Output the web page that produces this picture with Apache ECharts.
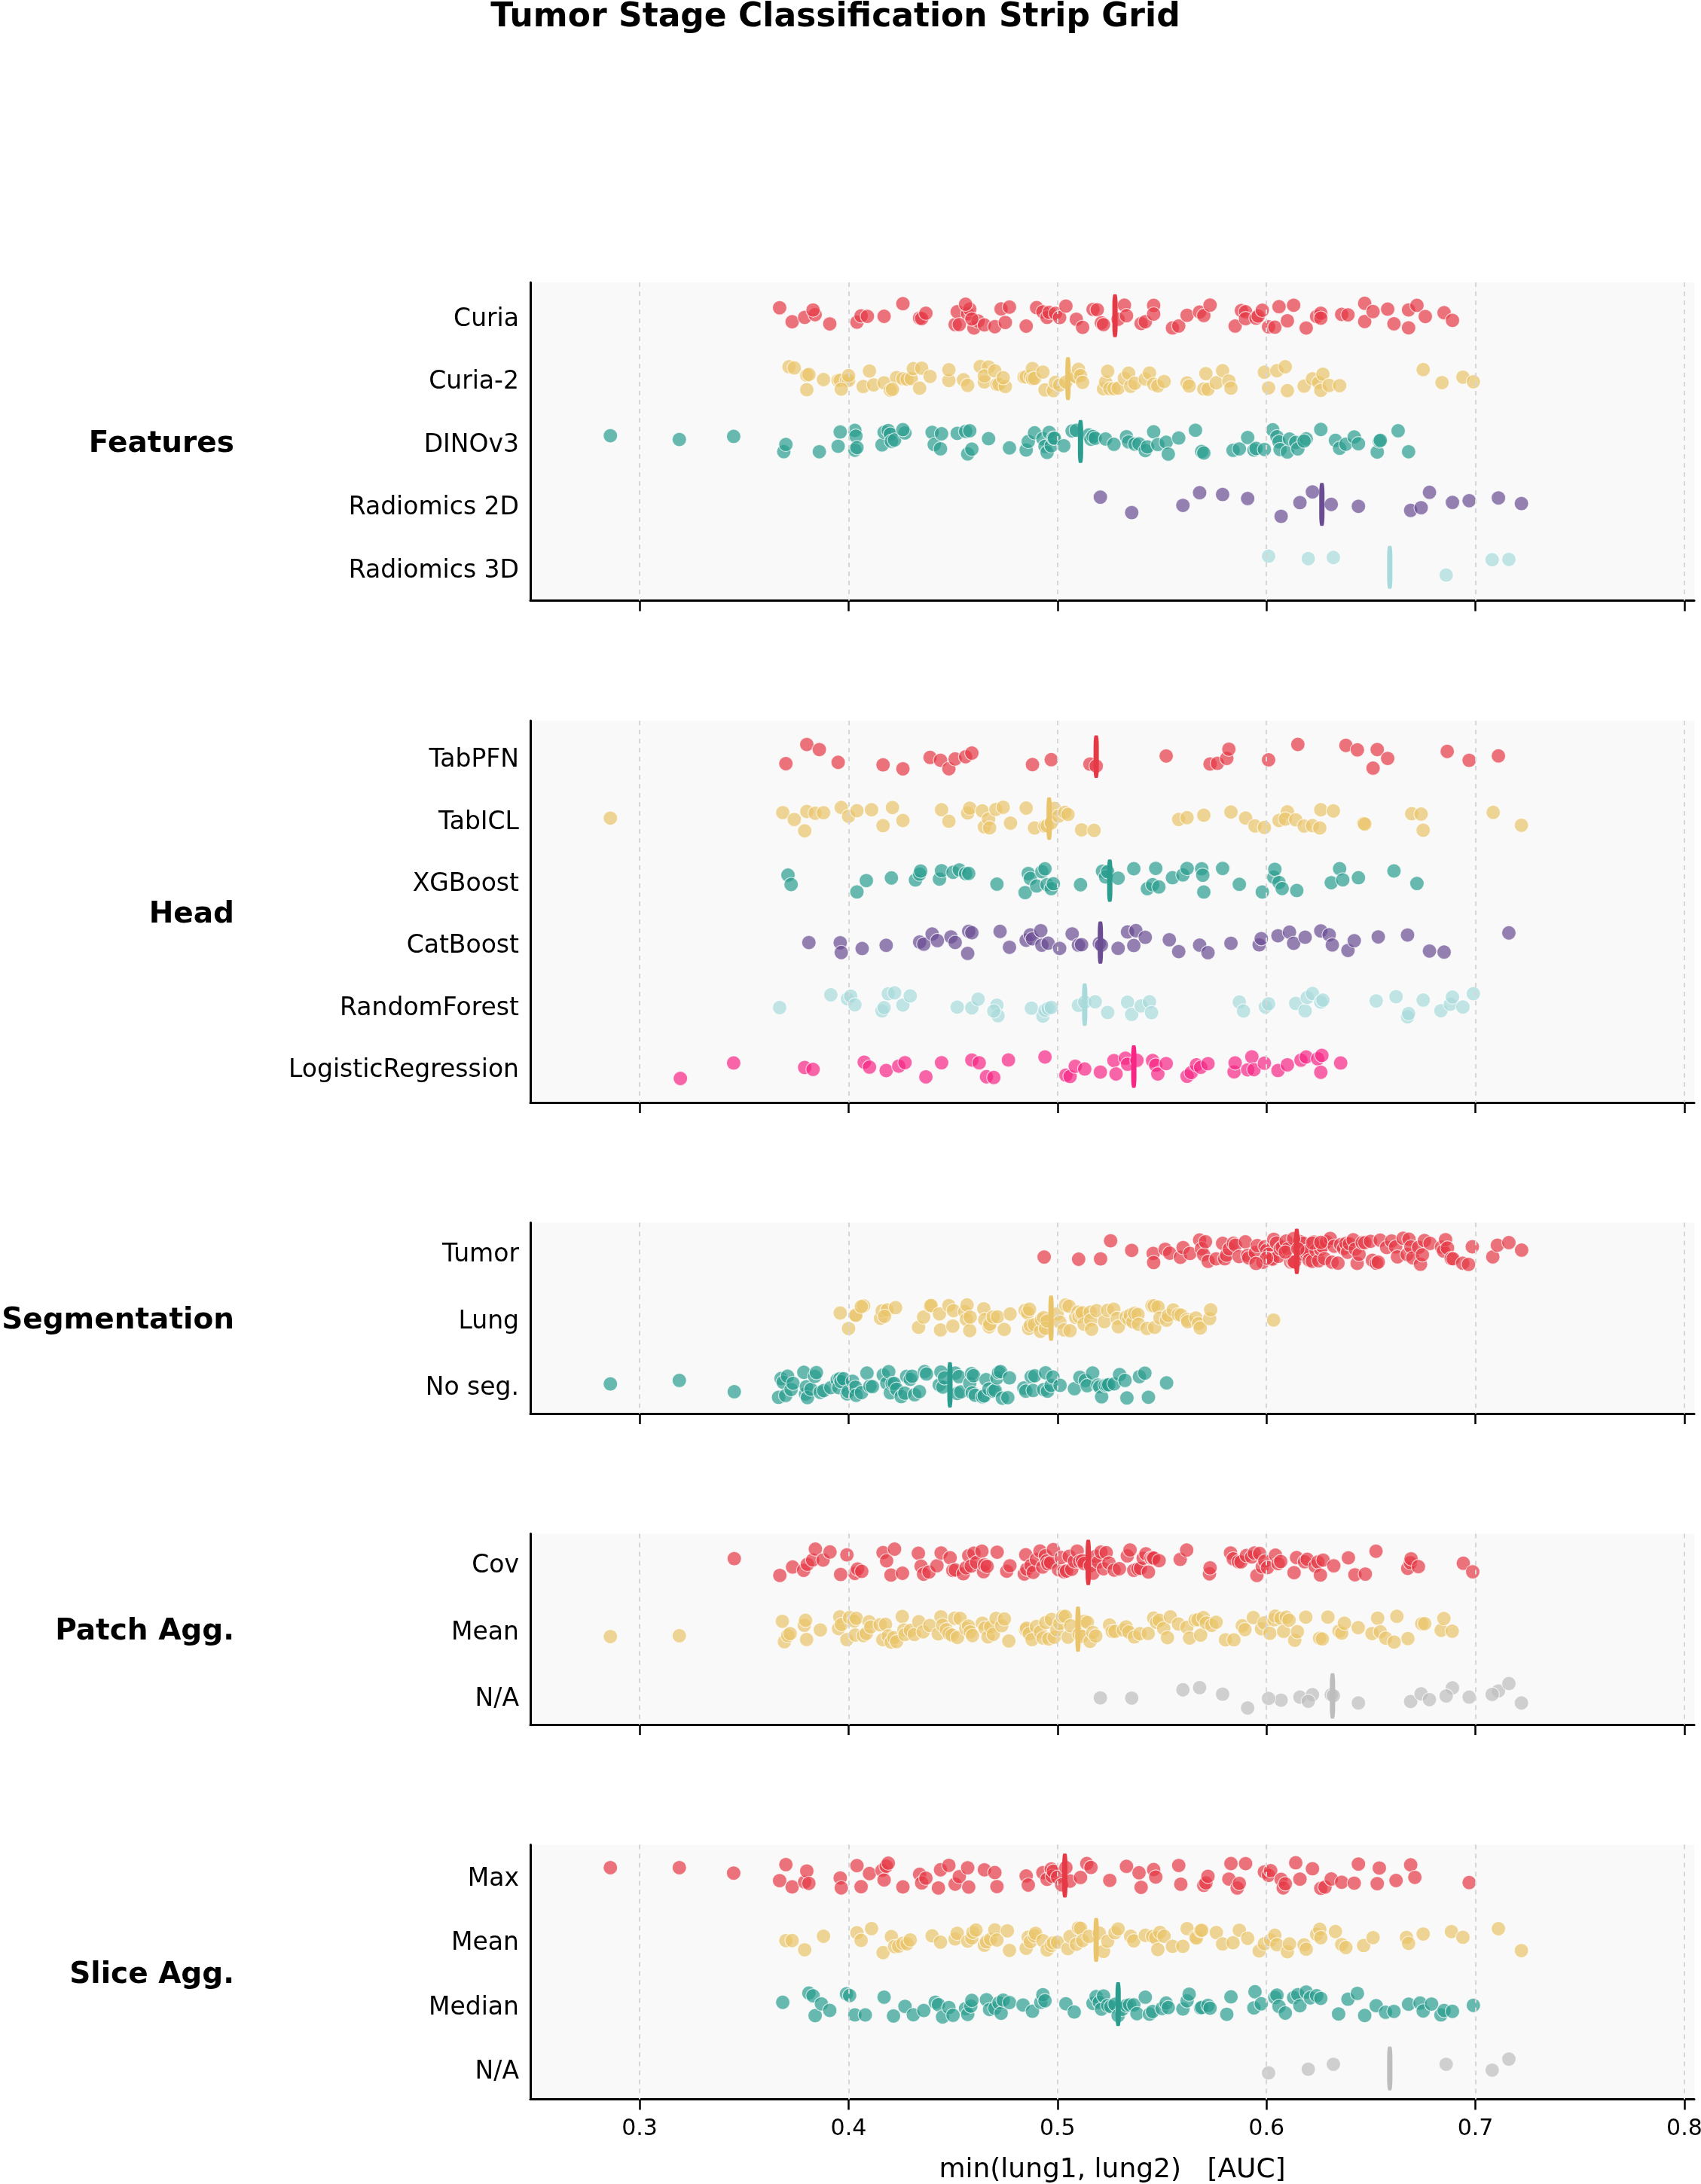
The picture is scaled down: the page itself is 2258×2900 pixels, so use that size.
<!DOCTYPE html>
<html>
<head>
<meta charset="utf-8">
<script src="https://cdn.jsdelivr.net/npm/echarts@6/dist/echarts.min.js"></script>
<style>
html,body{margin:0;padding:0;background:#fff;}
#chart{width:2258px;height:2900px;}
</style>
</head>
<body>
<div id="chart"></div>
<script>
// ---------------- DATA ----------------
const xTicks = [0.3, 0.4, 0.5, 0.6, 0.7, 0.8];

const groupNames = ['Features', 'Head', 'Segmentation', 'Patch Agg.', 'Slice Agg.'];

const featureRows = ['Curia', 'Curia-2', 'DINOv3', 'Radiomics 2D', 'Radiomics 3D'];
const featureMedians = [0.5275, 0.505, 0.511, 0.6265, 0.659];
const curia = [0.367,0.373,0.379,0.384,0.383,0.391,0.404,0.406,0.409,0.417,0.426,0.434,0.435,0.437,0.451,0.452,0.457,0.458,0.460,0.462,0.465,0.453,0.456,0.459,0.470,0.473,0.475,0.477,0.485,0.490,0.493,0.495,0.496,0.499,0.501,0.504,0.509,0.512,0.517,0.519,0.521,0.522,0.529,0.532,0.533,0.540,0.542,0.546,0.546,0.555,0.558,0.562,0.568,0.570,0.573,0.585,0.588,0.590,0.590,0.595,0.596,0.598,0.601,0.604,0.606,0.610,0.613,0.619,0.624,0.626,0.626,0.636,0.639,0.647,0.647,0.651,0.658,0.661,0.668,0.668,0.672,0.676,0.685,0.689];
const curia2 = [0.3715,0.374,0.380,0.381,0.380,0.388,0.395,0.396,0.399,0.400,0.400,0.3965,0.407,0.410,0.412,0.417,0.420,0.423,0.421,0.426,0.428,0.430,0.431,0.435,0.439,0.434,0.448,0.448,0.455,0.457,0.463,0.465,0.467,0.465,0.470,0.471,0.472,0.475,0.474,0.484,0.485,0.487,0.488,0.488,0.489,0.494,0.493,0.498,0.499,0.501,0.504,0.508,0.509,0.510,0.511,0.512,0.522,0.523,0.524,0.525,0.527,0.529,0.532,0.534,0.535,0.537,0.542,0.544,0.546,0.548,0.551,0.562,0.563,0.570,0.571,0.572,0.576,0.579,0.582,0.583,0.599,0.601,0.605,0.609,0.610,0.618,0.622,0.625,0.626,0.627,0.630,0.635,0.675,0.684,0.694,0.699];
const dinov3 = [0.286,0.319,0.345,0.369,0.370,0.386,0.395,0.396,0.403,0.403,0.4035,0.404,0.416,0.417,0.419,0.420,0.4205,0.422,0.427,0.426,0.440,0.441,0.444,0.4445,0.452,0.456,0.457,0.458,0.459,0.467,0.477,0.485,0.486,0.489,0.493,0.494,0.495,0.496,0.497,0.498,0.4985,0.503,0.507,0.509,0.515,0.516,0.517,0.518,0.523,0.527,0.533,0.534,0.537,0.539,0.542,0.543,0.546,0.548,0.552,0.553,0.558,0.566,0.569,0.570,0.584,0.587,0.591,0.594,0.595,0.599,0.603,0.605,0.606,0.6065,0.610,0.611,0.614,0.615,0.619,0.618,0.626,0.633,0.635,0.638,0.642,0.644,0.653,0.654,0.6545,0.663,0.668];
const radiomics2D = [0.5205,0.5355,0.560,0.568,0.579,0.591,0.607,0.616,0.622,0.631,0.644,0.669,0.674,0.678,0.689,0.697,0.711,0.722];
const radiomics3D = [0.601,0.620,0.632,0.686,0.708,0.716];

const headRows = ['TabPFN', 'TabICL', 'XGBoost', 'CatBoost', 'RandomForest', 'LogisticRegression'];
const headMedians = [0.5185, 0.496, 0.525, 0.5205, 0.513, 0.5365];
const tabPFN = [0.370,0.380,0.386,0.395,0.4165,0.426,0.439,0.444,0.448,0.451,0.456,0.459,0.488,0.497,0.5155,0.5185,0.552,0.573,0.5765,0.581,0.582,0.601,0.615,0.638,0.6435,0.651,0.653,0.658,0.6865,0.697,0.711];
const tabICL = [0.286,0.3685,0.374,0.379,0.380,0.384,0.388,0.3965,0.400,0.404,0.411,0.4165,0.421,0.426,0.4445,0.448,0.457,0.458,0.464,0.465,0.467,0.4675,0.4705,0.474,0.4775,0.485,0.489,0.494,0.495,0.497,0.4985,0.5005,0.5035,0.505,0.5115,0.5175,0.558,0.562,0.570,0.583,0.590,0.5945,0.599,0.606,0.610,0.609,0.614,0.618,0.622,0.6255,0.626,0.632,0.6465,0.647,0.6695,0.674,0.675,0.7085,0.722];
const xgboost = [0.371,0.3725,0.404,0.4085,0.4205,0.432,0.434,0.4345,0.4435,0.4445,0.450,0.453,0.456,0.4575,0.471,0.4845,0.486,0.487,0.490,0.4925,0.494,0.495,0.497,0.498,0.511,0.5215,0.523,0.524,0.529,0.5365,0.543,0.5455,0.547,0.5485,0.555,0.560,0.562,0.569,0.5695,0.570,0.579,0.587,0.598,0.6035,0.604,0.606,0.6075,0.6145,0.631,0.635,0.6365,0.644,0.661,0.672];
const catboost = [0.381,0.396,0.3965,0.4065,0.418,0.434,0.436,0.440,0.4425,0.449,0.451,0.457,0.4575,0.459,0.4725,0.477,0.485,0.487,0.488,0.492,0.4925,0.4955,0.501,0.507,0.510,0.5115,0.520,0.521,0.529,0.5335,0.5365,0.5375,0.542,0.5535,0.558,0.568,0.572,0.583,0.5965,0.5975,0.6055,0.611,0.613,0.6185,0.626,0.630,0.6315,0.639,0.642,0.6535,0.6675,0.678,0.685,0.716];
const randomForest = [0.367,0.3915,0.3995,0.401,0.403,0.416,0.417,0.419,0.422,0.426,0.4295,0.452,0.459,0.462,0.471,0.4715,0.4695,0.4875,0.493,0.494,0.4955,0.497,0.510,0.513,0.518,0.524,0.5335,0.5355,0.540,0.544,0.545,0.587,0.589,0.5995,0.601,0.614,0.6185,0.6195,0.622,0.626,0.627,0.6525,0.662,0.6675,0.668,0.675,0.6835,0.688,0.689,0.694,0.699];
const logisticRegression = [0.3195,0.345,0.379,0.383,0.4075,0.410,0.418,0.424,0.427,0.437,0.4445,0.459,0.4625,0.466,0.4695,0.4765,0.494,0.504,0.506,0.5085,0.513,0.5205,0.527,0.528,0.5325,0.5335,0.538,0.5455,0.547,0.548,0.552,0.562,0.564,0.5665,0.5685,0.572,0.5845,0.585,0.591,0.593,0.594,0.599,0.6055,0.610,0.6165,0.619,0.6245,0.626,0.6265,0.6355];

const segRows = ['Tumor', 'Lung', 'No seg.'];
const segMedians = [0.6145, 0.4969, 0.4485];
const segTumor = [0.4936,0.5101,0.5206,0.5254,0.5355,0.5458,0.5460,0.5515,0.5537,0.5588,0.5601,0.5634,0.5680,0.5689,0.5699,0.5708,0.5721,0.5759,0.5790,0.5800,0.5809,0.5822,0.5842,0.5851,0.5869,0.5899,0.5910,0.5915,0.5947,0.5956,0.5983,0.5993,0.6002,0.6011,0.6020,0.6029,0.6035,0.6048,0.6057,0.6066,0.6075,0.6094,0.6103,0.6116,0.6127,0.6134,0.6158,0.6167,0.6176,0.6189,0.6195,0.6204,0.6219,0.6226,0.6237,0.6250,0.6259,0.6268,0.6278,0.6287,0.6305,0.6314,0.6324,0.6342,0.6355,0.6369,0.6380,0.6388,0.6397,0.6415,0.6425,0.6434,0.6443,0.6458,0.6471,0.6498,0.6507,0.6526,0.6535,0.6544,0.6575,0.6599,0.6618,0.6627,0.6654,0.6673,0.6682,0.6691,0.6700,0.6728,0.6737,0.6746,0.6756,0.6783,0.6838,0.6847,0.6857,0.6866,0.6884,0.6893,0.6939,0.6967,0.6985,0.7083,0.7105,0.7160,0.7221,0.609,0.613,0.615,0.622,0.626,0.600,0.595];
const segLung = [0.3960,0.4000,0.4032,0.4035,0.4072,0.4061,0.4153,0.4161,0.4185,0.4172,0.4225,0.4335,0.4359,0.4391,0.4395,0.4435,0.4440,0.4480,0.4499,0.4502,0.4556,0.4564,0.4567,0.4580,0.4582,0.4647,0.4652,0.4673,0.4676,0.4692,0.4713,0.4745,0.4773,0.4845,0.4857,0.4862,0.4866,0.4870,0.4889,0.4918,0.4923,0.4934,0.4942,0.4950,0.4998,0.5011,0.5031,0.5039,0.5055,0.5060,0.5087,0.5098,0.5103,0.5114,0.5119,0.5127,0.5156,0.5159,0.5163,0.5187,0.5224,0.5240,0.5269,0.5285,0.5291,0.5329,0.5341,0.5348,0.5361,0.5369,0.5385,0.5388,0.5428,0.5452,0.5462,0.5465,0.5481,0.5490,0.5522,0.5530,0.5554,0.5578,0.5591,0.5620,0.5623,0.5662,0.5675,0.5683,0.5728,0.5733,0.6034];
const segNone = [0.286,0.3190,0.3453,0.3665,0.3677,0.3687,0.3699,0.3708,0.3725,0.3734,0.3786,0.3794,0.3798,0.3803,0.3820,0.3838,0.3846,0.3864,0.3881,0.3915,0.3946,0.3953,0.3959,0.3964,0.3976,0.3993,0.3998,0.4019,0.4033,0.4036,0.4062,0.4088,0.4102,0.4114,0.4166,0.4183,0.4192,0.4200,0.4209,0.4218,0.4230,0.4252,0.4269,0.4278,0.4295,0.4304,0.4316,0.4339,0.4364,0.4373,0.4434,0.4442,0.4451,0.4459,0.4511,0.4520,0.4528,0.4537,0.4580,0.4589,0.4592,0.4598,0.4606,0.4641,0.4649,0.4658,0.4672,0.4693,0.4701,0.4710,0.4718,0.4727,0.4736,0.4762,0.4770,0.4839,0.4848,0.4874,0.4883,0.4891,0.4934,0.4943,0.4952,0.4969,0.4978,0.5012,0.5081,0.5107,0.5133,0.5142,0.5168,0.5193,0.5202,0.5211,0.5228,0.5237,0.5245,0.5271,0.5297,0.5323,0.5332,0.5392,0.5418,0.5435,0.5522];

const patchRows = ['Cov', 'Mean', 'N/A'];
const patchMedians = [0.5147, 0.5098, 0.6316];
const patchCov = [0.3453,0.3671,0.3732,0.3785,0.3803,0.3828,0.3841,0.3878,0.3911,0.3962,0.3992,0.4030,0.4043,0.4063,0.4165,0.4182,0.4203,0.4220,0.4258,0.4334,0.4347,0.4359,0.4385,0.4423,0.4443,0.4486,0.4499,0.4511,0.4549,0.4562,0.4575,0.4587,0.4600,0.4613,0.4638,0.4646,0.4651,0.4663,0.4711,0.4757,0.4772,0.4841,0.4848,0.4853,0.4873,0.4884,0.4899,0.4916,0.4929,0.4942,0.4949,0.4954,0.4967,0.4980,0.5005,0.5018,0.5030,0.5043,0.5056,0.5068,0.5081,0.5094,0.5106,0.5119,0.5127,0.5157,0.5170,0.5182,0.5195,0.5208,0.5220,0.5233,0.5246,0.5271,0.5296,0.5334,0.5347,0.5365,0.5385,0.5397,0.5410,0.5423,0.5435,0.5448,0.5456,0.5461,0.5486,0.5587,0.5618,0.5727,0.5730,0.5828,0.5841,0.5866,0.5878,0.5904,0.5929,0.5942,0.5954,0.5967,0.5980,0.5992,0.6005,0.6043,0.6056,0.6068,0.6132,0.6144,0.6182,0.6195,0.6233,0.6246,0.6258,0.6271,0.6322,0.6392,0.6423,0.6473,0.6524,0.6676,0.6689,0.6692,0.6727,0.6942,0.6987];
const patchMean = [0.286,0.3190,0.3683,0.3693,0.3709,0.3720,0.3788,0.3794,0.3799,0.3865,0.3952,0.3958,0.3966,0.3992,0.4005,0.4026,0.4032,0.4037,0.4071,0.4085,0.4098,0.4106,0.4151,0.4164,0.4177,0.4190,0.4204,0.4217,0.4230,0.4257,0.4265,0.4270,0.4296,0.4315,0.4336,0.4357,0.4389,0.4429,0.4442,0.4450,0.4468,0.4481,0.4495,0.4508,0.4521,0.4534,0.4561,0.4574,0.4582,0.4593,0.4640,0.4653,0.4667,0.4680,0.4693,0.4706,0.4733,0.4746,0.4767,0.4847,0.4852,0.4865,0.4878,0.4899,0.4918,0.4931,0.4944,0.4958,0.4971,0.4984,0.4997,0.5011,0.5024,0.5037,0.5050,0.5063,0.5103,0.5116,0.5130,0.5143,0.5156,0.5169,0.5183,0.5249,0.5262,0.5275,0.5315,0.5328,0.5341,0.5368,0.5394,0.5434,0.5460,0.5474,0.5487,0.5508,0.5526,0.5540,0.5579,0.5619,0.5632,0.5659,0.5672,0.5685,0.5698,0.5712,0.5738,0.5759,0.5804,0.5844,0.5884,0.5897,0.5937,0.5976,0.5989,0.6016,0.6037,0.6042,0.6069,0.6082,0.6095,0.6108,0.6135,0.6148,0.6188,0.6254,0.6267,0.6294,0.6347,0.6360,0.6373,0.6439,0.6505,0.6532,0.6545,0.6571,0.6611,0.6624,0.6677,0.6743,0.6757,0.6836,0.6849,0.6889];
const patchNA = radiomics2D.concat(radiomics3D);

const sliceRows = ['Max', 'Mean', 'Median', 'N/A'];
const sliceMedians = [0.5035, 0.5185, 0.529, 0.659];
const sliceMax = [0.286,0.319,0.345,0.367,0.370,0.373,0.379,0.380,0.381,0.396,0.3965,0.404,0.406,0.410,0.416,0.417,0.418,0.419,0.426,0.434,0.435,0.437,0.443,0.444,0.448,0.451,0.453,0.457,0.4575,0.465,0.470,0.471,0.485,0.486,0.493,0.495,0.497,0.4975,0.498,0.500,0.502,0.504,0.506,0.511,0.514,0.516,0.525,0.533,0.539,0.540,0.546,0.547,0.558,0.559,0.570,0.571,0.572,0.582,0.583,0.586,0.587,0.590,0.599,0.601,0.602,0.607,0.608,0.609,0.614,0.616,0.622,0.626,0.628,0.631,0.636,0.642,0.644,0.653,0.654,0.662,0.669,0.671,0.697];
const sliceMean = [0.370,0.373,0.379,0.388,0.404,0.406,0.411,0.4165,0.4205,0.422,0.424,0.426,0.428,0.4295,0.440,0.444,0.451,0.452,0.457,0.459,0.4595,0.461,0.465,0.466,0.468,0.470,0.471,0.476,0.477,0.485,0.486,0.487,0.489,0.4895,0.493,0.495,0.497,0.498,0.500,0.505,0.506,0.509,0.510,0.511,0.512,0.515,0.520,0.522,0.524,0.5275,0.529,0.535,0.5365,0.542,0.5455,0.547,0.548,0.549,0.551,0.555,0.560,0.562,0.566,0.5665,0.5685,0.569,0.576,0.579,0.584,0.587,0.591,0.5965,0.599,0.602,0.604,0.605,0.610,0.611,0.618,0.619,0.624,0.6255,0.626,0.633,0.636,0.638,0.6465,0.651,0.667,0.668,0.675,0.6885,0.694,0.711,0.722];
const sliceMedian = [0.3685,0.381,0.383,0.384,0.387,0.391,0.399,0.4005,0.403,0.408,0.417,0.4215,0.427,0.431,0.436,0.4415,0.443,0.445,0.448,0.450,0.456,0.457,0.4585,0.459,0.466,0.4675,0.470,0.472,0.473,0.474,0.477,0.4835,0.488,0.492,0.493,0.494,0.504,0.508,0.517,0.5185,0.520,0.521,0.522,0.524,0.5255,0.5275,0.529,0.531,0.533,0.5345,0.5365,0.538,0.542,0.544,0.5455,0.550,0.552,0.553,0.560,0.562,0.563,0.5685,0.569,0.572,0.573,0.581,0.583,0.594,0.5945,0.5975,0.604,0.605,0.606,0.609,0.613,0.615,0.616,0.619,0.621,0.624,0.626,0.6345,0.639,0.6435,0.647,0.6525,0.657,0.661,0.668,0.6735,0.675,0.679,0.6835,0.685,0.689,0.699];
const sliceNA = radiomics3D;

// ---------------- LAYOUT / STYLE ----------------
const FONT = 'DejaVu Sans';
const X_MIN = 0.2477, X_MAX = 0.8047;
const PALETTE = ['#e63946', '#e9c46a', '#2a9d8f', '#6a4c93', '#a8dadc', '#f72585'];
const NA_COLOR = '#bdbdbd';
const GRID_LEFT = 704, GRID_WIDTH = 1545;
const MEDIAN_HALF = 0.3;   // half-height of median bar (row units)
const JITTER_HALF = 0.2;   // strip jitter half-width (row units)
const LABEL_SHIFT_PX = 5;  // row labels sit slightly below row centre
const gridBoxes = [
  {top: 375, height: 422.5},
  {top: 957, height: 507},
  {top: 1623.5, height: 253.5},
  {top: 2036.5, height: 253.5},
  {top: 2449.5, height: 338}
];

const panels = [
  {rows: featureRows, values: [curia, curia2, dinov3, radiomics2D, radiomics3D], medians: featureMedians},
  {rows: headRows, values: [tabPFN, tabICL, xgboost, catboost, randomForest, logisticRegression], medians: headMedians},
  {rows: segRows, values: [segTumor, segLung, segNone], medians: segMedians},
  {rows: patchRows, values: [patchCov, patchMean, patchNA], medians: patchMedians},
  {rows: sliceRows, values: [sliceMax, sliceMean, sliceMedian, sliceNA], medians: sliceMedians}
];

function jitter(i, seed) {
  const s = Math.sin(i * 12.9898 + seed * 78.233) * 43758.5453;
  return (s - Math.floor(s) - 0.5) * 2 * JITTER_HALF;
}

const grid = [], xAxis = [], yAxis = [], series = [], graphic = [];

panels.forEach((p, pi) => {
  const g = gridBoxes[pi];
  const n = p.rows.length;
  const last = pi === panels.length - 1;
  // y-limits like matplotlib autoscale: data extent (median bars) + 5% margin
  const span = (n - 1) + 2 * MEDIAN_HALF;
  const pad = MEDIAN_HALF + 0.05 * span;
  const yMin = -pad, yMax = (n - 1) + pad;
  const rowPx = g.height / (yMax - yMin);
  const labelShift = LABEL_SHIFT_PX / rowPx;

  grid.push({
    left: GRID_LEFT, width: GRID_WIDTH, top: g.top, height: g.height,
    show: true, backgroundColor: '#f9f9f9', borderWidth: 0,
    containLabel: false, outerBoundsMode: 'none'
  });
  xAxis.push({
    type: 'value', gridIndex: pi, min: X_MIN, max: X_MAX,
    axisLine: {show: true, onZero: false, lineStyle: {color: '#000', width: 3}},
    axisTick: {show: true, customValues: xTicks, length: 14, lineStyle: {color: '#000', width: 2.5}},
    axisLabel: {show: last, customValues: xTicks, fontSize: 30, fontFamily: FONT, color: '#000', margin: 25,
      formatter: v => v.toFixed(1)},
    splitLine: {show: false},
    name: last ? 'min(lung1, lung2)   [AUC]' : '',
    nameLocation: 'middle', nameGap: 76,
    nameTextStyle: {fontSize: 36, fontFamily: FONT, color: '#000'}
  });
  yAxis.push({
    type: 'value', gridIndex: pi, min: yMin, max: yMax, inverse: true,
    axisLine: {show: true, onZero: false, lineStyle: {color: '#000', width: 3}},
    axisTick: {show: false},
    axisLabel: {show: true, customValues: p.rows.map((_, i) => i + labelShift), fontSize: 33, fontFamily: FONT,
      color: '#000', margin: 15, formatter: v => p.rows[Math.round(v)] || ''},
    splitLine: {show: false}
  });
  // grid lines
  series.push({
    type: 'scatter', xAxisIndex: pi, yAxisIndex: pi, data: [], silent: true, z: 1,
    markLine: {
      silent: true, symbol: ['none', 'none'], label: {show: false}, animation: false,
      lineStyle: {color: '#d6d6d6', width: 2, type: [6, 6]},
      data: xTicks.map(v => ({xAxis: v}))
    }
  });
  p.rows.forEach((name, ri) => {
    const color = name === 'N/A' ? NA_COLOR : PALETTE[ri % PALETTE.length];
    series.push({
      type: 'scatter', xAxisIndex: pi, yAxisIndex: pi, z: 3,
      symbolSize: 19,
      itemStyle: {color: color, opacity: 0.7, borderColor: '#ffffff', borderWidth: 1.2},
      data: p.values[ri].map((v, i) => [v, ri + jitter(i, pi * 10 + ri + 1)])
    });
    series.push({
      type: 'scatter', xAxisIndex: pi, yAxisIndex: pi, z: 4,
      symbol: 'roundRect', symbolSize: [7, 2 * MEDIAN_HALF * rowPx + 7],
      itemStyle: {color: color, opacity: 1},
      data: [[p.medians[ri], ri]]
    });
  });
  graphic.push({
    type: 'text', x: 311, y: g.top + g.height / 2 + 4,
    style: {text: groupNames[pi], fontSize: 39, fontWeight: 'bold', fontFamily: FONT, fill: '#000',
      textAlign: 'right', textVerticalAlign: 'middle', align: 'right', verticalAlign: 'middle'}
  });
});

graphic.push({
  type: 'text', x: 1109, y: 24,
  style: {text: 'Tumor Stage Classification Strip Grid', fontSize: 44, fontWeight: 'bold', fontFamily: FONT,
    fill: '#000', textAlign: 'center', textVerticalAlign: 'middle', align: 'center', verticalAlign: 'middle'}
});

const chart = echarts.init(document.getElementById('chart'), null, {renderer: 'canvas'});
chart.setOption({
  animation: false,
  backgroundColor: '#ffffff',
  textStyle: {fontFamily: FONT},
  grid, xAxis, yAxis, series, graphic
});
</script>
</body>
</html>
